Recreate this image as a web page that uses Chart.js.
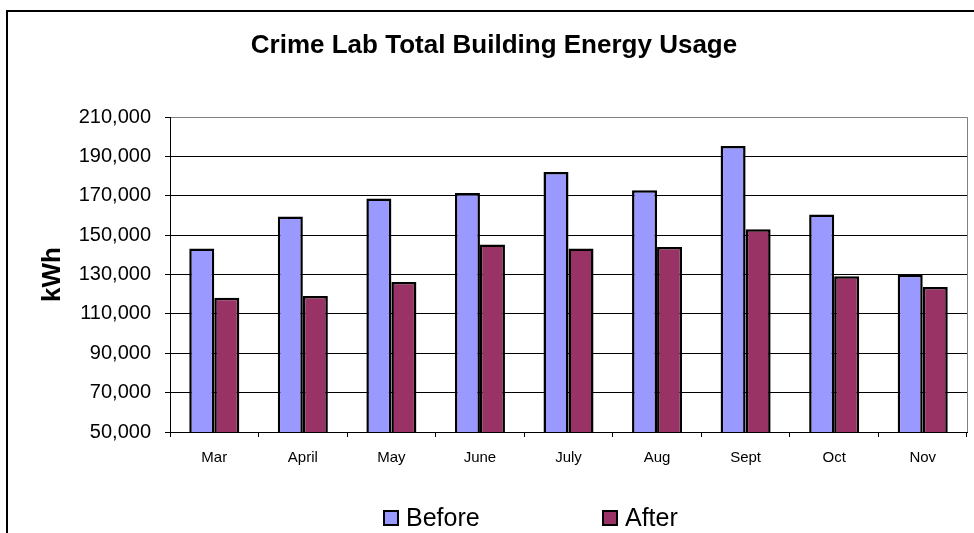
<!DOCTYPE html>
<html>
<head>
<meta charset="utf-8">
<script src="https://cdn.jsdelivr.net/npm/chart.js@4"></script>
<style>
  html, body { margin: 0; padding: 0; background: #fff; }
  #wrap { width: 974px; height: 533px; position: relative; }
</style>
</head>
<body>
<div id="wrap"><canvas id="energyChart"></canvas></div>
<script>
const months = ['Mar', 'April', 'May', 'June', 'July', 'Aug', 'Sept', 'Oct', 'Nov'];
const beforeKwh = [143300, 159500, 168700, 171500, 182200, 172900, 195300, 160600, 129900];
const afterKwh = [118200, 119100, 126300, 145300, 143300, 144000, 153100, 129200, 123700];
const yMin = 50000;
const yMax = 210000;
const yStep = 20000;

const FONT = "'Liberation Sans', Arial, sans-serif";

// outer frame + right border of the plot area
const framePlugin = {
    id: 'frame',
    beforeDraw(chart) {
        const ctx = chart.ctx;
        ctx.save();
        ctx.strokeStyle = '#000';
        ctx.lineWidth = 2;
        ctx.beginPath();
        ctx.moveTo(7, chart.height);
        ctx.lineTo(7, 11);
        ctx.lineTo(chart.width, 11);
        ctx.stroke();
        ctx.restore();
    },
    afterDatasetsDraw(chart) {
        const { ctx, chartArea } = chart;
        ctx.save();
        ctx.strokeStyle = '#808080';
        ctx.lineWidth = 1;
        ctx.beginPath();
        ctx.moveTo(Math.round(chartArea.right) + 0.5, chartArea.top);
        ctx.lineTo(Math.round(chartArea.right) + 0.5, chartArea.bottom);
        ctx.stroke();
        ctx.restore();
    }
};

// legend drawn like the Excel one (wide gap between the two entries)
const legendPlugin = {
    id: 'excelLegend',
    afterDraw(chart) {
        const ctx = chart.ctx;
        const starts = [383, 602];
        const cy = 518;
        ctx.save();
        ctx.font = '25px ' + FONT;
        ctx.textBaseline = 'middle';
        chart.data.datasets.forEach((ds, i) => {
            const x = starts[i];
            ctx.fillStyle = ds.backgroundColor;
            ctx.fillRect(x + 1, cy - 7, 14, 14);
            ctx.strokeStyle = '#000';
            ctx.lineWidth = 2;
            ctx.strokeRect(x + 1, cy - 7, 14, 14);
            ctx.fillStyle = '#000';
            ctx.fillText(ds.label, x + 23, cy + 1);
        });
        ctx.restore();
    }
};

const ctx = document.getElementById('energyChart').getContext('2d');
new Chart(ctx, {
    type: 'bar',
    data: {
        labels: months,
        datasets: [
            {
                label: 'Before',
                data: beforeKwh,
                backgroundColor: '#9999FF',
                borderColor: '#000',
                borderWidth: 2.5,
                borderSkipped: false,
                categoryPercentage: 0.565,
                barPercentage: 1.0
            },
            {
                label: 'After',
                data: afterKwh,
                backgroundColor: '#993366',
                borderColor: '#000',
                borderWidth: 2.5,
                borderSkipped: false,
                categoryPercentage: 0.565,
                barPercentage: 1.0
            }
        ]
    },
    options: {
        responsive: true,
        maintainAspectRatio: false,
        animation: false,
        layout: { padding: { top: 0, left: 21, right: 7, bottom: 61 } },
        plugins: {
            legend: { display: false },
            tooltip: { enabled: false },
            title: {
                display: true,
                text: 'Crime Lab Total Building Energy Usage',
                color: '#000',
                font: { family: FONT, size: 26, weight: 'bold' },
                padding: { top: 30, bottom: 56 }
            }
        },
        scales: {
            x: {
                offset: true,
                grid: {
                    drawOnChartArea: false,
                    drawTicks: true,
                    tickLength: 5,
                    color: '#000'
                },
                border: { display: true, color: '#000', width: 1 },
                ticks: {
                    color: '#000',
                    font: { family: FONT, size: 15 },
                    padding: 12,
                    maxRotation: 0
                },
                afterFit(scale) { scale.height = 40; }
            },
            y: {
                min: yMin,
                max: yMax,
                grid: {
                    color: c => (c.tick && c.tick.value === yMax ? '#808080' : '#000'),
                    tickColor: '#000',
                    tickLength: 5,
                    drawTicks: true
                },
                border: { display: true, color: '#000', width: 1 },
                ticks: {
                    stepSize: yStep,
                    color: '#000',
                    font: { family: FONT, size: 20 },
                    padding: 14,
                    callback: v => v.toLocaleString('en-US')
                },
                title: {
                    display: true,
                    text: 'kWh',
                    color: '#000',
                    font: { family: FONT, size: 26, weight: 'bold' },
                    padding: { top: 16, bottom: 0 }
                },
                afterFit(scale) { scale.width = 149; }
            }
        }
    },
    plugins: [framePlugin, legendPlugin]
});
</script>
</body>
</html>
